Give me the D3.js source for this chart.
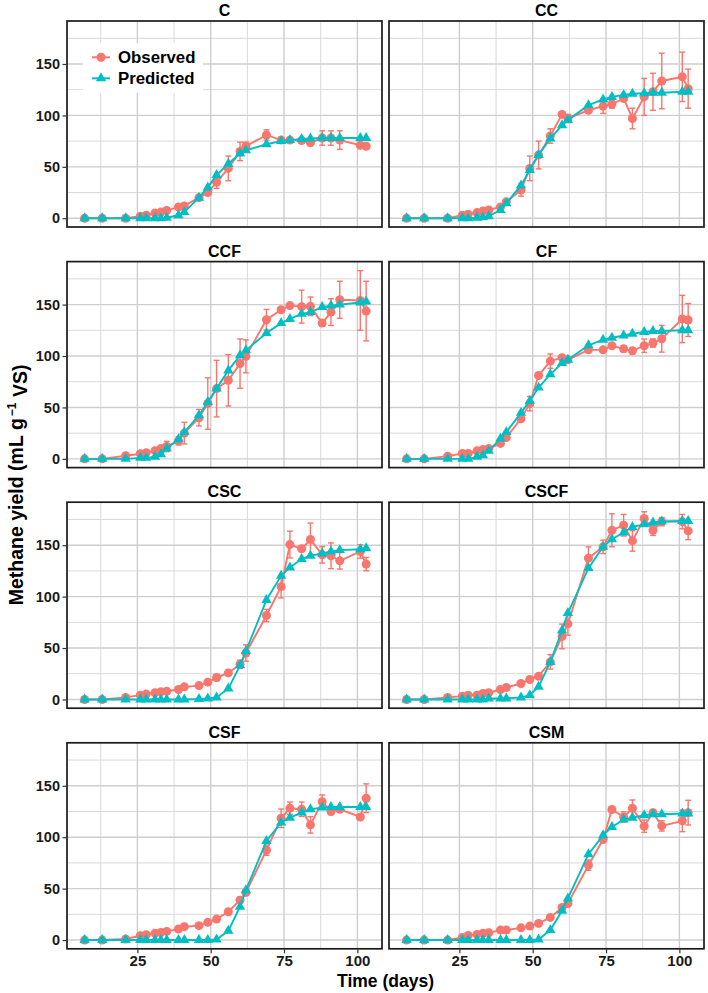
<!DOCTYPE html>
<html>
<head>
<meta charset="utf-8">
<script src="https://cdnjs.cloudflare.com/ajax/libs/d3/7.8.5/d3.min.js"></script>
<style>
  body { margin: 0; background: #fff; }
  svg { display: block; font-family: "Liberation Sans", Arial, sans-serif; }
</style>
</head>
<body>
<div id="graf"></div>
<script>
// Dias de muestreo (comunes a todos los tratamientos)
const dias = [7, 13, 21, 26, 28, 31, 33, 35, 39, 41, 46, 49, 52, 56, 60, 62, 69, 74, 77, 81, 84, 88, 91, 94, 101, 103]

const tratamientos = ['C', 'CC', 'CCF', 'CF', 'CSC', 'CSCF', 'CSF', 'CSM']

// Observado, error y predicho por tratamiento (mL g-1 VS)
const obs_C   = [0, 0, 0, 2, 3, 5, 6, 7.5, 11, 12, 20, 25, 35, 48.5, 65, 70, 81, 76, 76, 75.5, 73.5, 78, 78, 76, 71, 70]
const err_C   = [0, 0, 0, 1, 1, 1, 1, 1, 1, 1.5, 2, 2, 6, 12, 9, 4, 5, 2, 2, 2, 3, 7, 7, 9, 2, 2]
const pred_C  = [0, 0, 0, 0, 0, 0, 0, 0.5, 3, 6, 20, 30, 42, 53, 63, 66, 72, 75, 76, 77, 77.5, 78, 78, 78, 78, 78]

const obs_CC  = [0, 0, 0, 3, 4, 5.5, 7, 8, 11, 16, 27.5, 48.5, 61.5, 80, 101, 97, 105, 109, 111, 116.5, 97, 118, 123, 133.5, 137.5, 126]
const err_CC  = [0, 0, 0, 1, 1, 1, 1, 1, 1.5, 2, 6, 12, 13.5, 7, 2, 4, 2, 7, 4, 3, 10, 18, 18, 27, 24, 19]
const pred_CC = [0, 0, 0, 0, 0, 0.5, 1, 2, 8, 14.5, 32, 47, 61.5, 77.5, 90.5, 95.5, 110, 115.5, 118, 120, 121, 121.5, 122, 122, 123, 123]

const obs_CCF  = [0, 0, 3, 5, 6, 8, 10, 12, 17.5, 25, 40, 53.8, 68.3, 76.4, 92.6, 99.7, 135.3, 145, 149, 148, 148.3, 132, 142.7, 154.7, 154, 143.7]
const err_CCF  = [0, 0, 1, 1, 1, 2, 2, 5, 4, 10.5, 8, 25, 27.5, 25, 24, 16, 10, 2, 2, 16, 9, 2, 13, 18, 29, 29]
const pred_CCF = [0, 0, 0, 1, 1, 2, 4.5, 10, 19, 26, 42.4, 55.3, 68.3, 86, 100.7, 105.5, 122.3, 132, 136, 141, 142.7, 147.6, 149, 150, 152, 153]

const obs_CF  = [0, 0, 2.6, 5.2, 5.2, 7.8, 9, 10, 15, 20.7, 39, 53.7, 81, 95, 98.4, 96.4, 106, 106, 110, 107, 105, 110, 112.6, 116.8, 136, 135]
const err_CF  = [0, 0, 1, 1, 1, 1, 1, 1, 1, 1.5, 2, 7, 2, 7, 2, 2, 2, 2, 2, 3, 3, 6.5, 4, 13, 23, 16]
const pred_CF = [0, 0, 0, 0, 0, 2, 3.5, 7.8, 19.7, 26, 44.7, 56.3, 69.3, 82.2, 93.2, 96.4, 110.4, 115.9, 117.8, 120, 121.7, 123.3, 124.3, 124.3, 125, 125]

const obs_CSC  = [0, 0, 2, 4.2, 5.2, 6.5, 7.4, 8, 9.7, 12.3, 13.5, 16.8, 21.3, 25.8, 34.2, 45.2, 81.6, 109.7, 150.6, 146.5, 155.5, 140.6, 139.7, 134.8, 143.9, 131.6]
const err_CSC  = [0, 0, 1, 1, 1, 1, 1, 1, 1, 1, 1.5, 1.5, 3, 2, 4, 8, 6, 11, 13, 2, 16, 8, 12.5, 8, 6.5, 6.5]
const pred_CSC = [0, 0, 0, 0, 0, 0, 0, 0, 0, 0, 0.5, 1, 2, 10.6, 33.2, 47, 96.8, 120.3, 128.4, 136.5, 139.7, 142, 143.9, 145.2, 146, 147]

const obs_CSCF  = [0, 0, 2, 3.2, 4.2, 4.2, 5.8, 6.5, 9.7, 11.6, 15.5, 19.4, 22.6, 36.5, 61.3, 73.5, 137.4, 148.4, 164.5, 169.4, 154.2, 176, 164.5, 172.9, 172.9, 163.9]
const err_CSCF  = [0, 0, 1, 1, 1, 1, 1, 1, 1, 1, 1, 1.5, 2, 7, 12, 11, 11, 6.5, 16, 10.5, 10, 6.5, 5, 4, 7, 8.5]
const pred_CSCF = [0, 0, 0, 0, 0, 0, 0, 1, 1, 1, 2, 4.2, 12.3, 36.5, 67, 84, 127.7, 148.4, 155.8, 162.3, 167.7, 170.3, 172, 173, 173.5, 173.5]

const obs_CSF  = [0, 0, 1, 4.2, 5.2, 6.5, 7.4, 8.4, 10.7, 13, 14, 17.2, 20.4, 27.5, 38.8, 46.3, 87.4, 118.4, 128.2, 127.2, 112, 134.6, 125, 127.2, 119.7, 137.9]
const err_CSF  = [0, 0, 0.5, 1, 1, 1, 1, 1, 1, 1, 1, 1, 1.5, 2, 3, 2, 5, 9, 6, 7, 8, 6.5, 3, 2, 2, 14]
const pred_CSF = [0, 0, 0, 0, 0, 0, 0, 0, 0, 0, 0, 0, 0.5, 9, 32.4, 48.5, 96.4, 114.2, 119, 124, 127.2, 128.8, 129.4, 129.4, 129.4, 129.4]

const obs_CSM  = [0, 0, 0, 2.6, 4.5, 5.5, 6.5, 7.1, 9.7, 9.7, 11.9, 13.6, 16.2, 22, 31.7, 35.6, 72.8, 97.7, 126.9, 119.7, 128.2, 110.7, 123.9, 111, 115.9, 123.9]
const err_CSM  = [0, 0, 0, 1, 1, 1, 1, 1, 1, 1, 1, 1, 1.5, 1.5, 2, 2, 5, 2, 2, 5, 8, 6, 3, 5, 10.5, 12]
const pred_CSM = [0, 0, 0, 0, 0, 0, 0, 0, 0, 0, 0, 0, 0.5, 9.7, 28.5, 40.5, 83.5, 101.9, 110, 117.2, 119, 121.4, 122.3, 122.3, 123, 123]

// Marcas de los ejes
const ticksX = [25, 50, 75, 100]
const ticksY = [0, 50, 100, 150]

// Tabla de paneles construida a partir de los arreglos
const series = {
  C: [obs_C, err_C, pred_C], CC: [obs_CC, err_CC, pred_CC],
  CCF: [obs_CCF, err_CCF, pred_CCF], CF: [obs_CF, err_CF, pred_CF],
  CSC: [obs_CSC, err_CSC, pred_CSC], CSCF: [obs_CSCF, err_CSCF, pred_CSCF],
  CSF: [obs_CSF, err_CSF, pred_CSF], CSM: [obs_CSM, err_CSM, pred_CSM]
}
const paneles = tratamientos.map((t, i) => ({
  nombre: t,
  col: i % 2,
  fila: Math.floor(i / 2),
  obs: dias.map((d, j) => ({ dia: d, v: series[t][0][j], e: series[t][1][j] })),
  pred: dias.map((d, j) => ({ dia: d, v: series[t][2][j] }))
}))

const colObs = '#F8766D'
const colPred = '#00BFC4'

// Dimensiones
const ancho_total = 708, alto_total = 993
const margen = { izquierdo: 67, superior: 21 }
const anchoPanel = 315, altoPanel = 206
const pasoX = 322, pasoY = 240.6

const svg = d3.select('#graf').append('svg')
  .attr('width', ancho_total)
  .attr('height', alto_total)

const x = d3.scaleLinear().domain([1, 108.4]).range([0, anchoPanel])
const y = d3.scaleLinear().domain([-8.5, 191.8]).range([altoPanel, 0])

// lineas secundarias en medio de las principales
const medios = t => {
  const paso = t[1] - t[0]
  return [t[0] - paso / 2].concat(t.map(v => v + paso / 2))
}
const menoresX = medios(ticksX).filter(v => v > x.domain()[0] && v < x.domain()[1])
const menoresY = medios(ticksY).filter(v => v > y.domain()[0] && v < y.domain()[1])

const linea = d3.line().x(d => x(d.dia)).y(d => y(d.v))
const triangulo = d3.symbol().type(d3.symbolTriangle).size(46)

paneles.forEach(p => {
  const g = svg.append('g')
    .attr('transform', `translate(${margen.izquierdo + p.col * pasoX}, ${margen.superior + p.fila * pasoY})`)

  g.append('rect')
    .attr('width', anchoPanel).attr('height', altoPanel)
    .attr('fill', '#fff')

  // Rejilla
  g.selectAll('line.menorx').data(menoresX).enter().append('line')
    .attr('x1', d => x(d)).attr('x2', d => x(d))
    .attr('y1', 0).attr('y2', altoPanel)
    .attr('stroke', '#d9d9d9').attr('stroke-width', 1)
  g.selectAll('line.menory').data(menoresY).enter().append('line')
    .attr('y1', d => y(d)).attr('y2', d => y(d))
    .attr('x1', 0).attr('x2', anchoPanel)
    .attr('stroke', '#d9d9d9').attr('stroke-width', 1)
  g.selectAll('line.mayorx').data(ticksX).enter().append('line')
    .attr('x1', d => x(d)).attr('x2', d => x(d))
    .attr('y1', 0).attr('y2', altoPanel)
    .attr('stroke', '#cecece').attr('stroke-width', 1.4)
  g.selectAll('line.mayory').data(ticksY).enter().append('line')
    .attr('y1', d => y(d)).attr('y2', d => y(d))
    .attr('x1', 0).attr('x2', anchoPanel)
    .attr('stroke', '#cecece').attr('stroke-width', 1.4)

  // Leyenda en el primer panel
  if (p.nombre === 'C') {
    const ley = g.append('g').attr('transform', 'translate(16, 22)')
    ley.append('rect').attr('width', 120).attr('height', 50).attr('fill', '#fff')
    const items = [{ t: 'Observed', c: colObs }, { t: 'Predicted', c: colPred }]
    items.forEach((it, i) => {
      const fy = 14.3 + i * 21
      ley.append('line').attr('x1', 9).attr('x2', 27).attr('y1', fy).attr('y2', fy)
        .attr('stroke', it.c).attr('stroke-width', 2)
      if (i === 0) {
        ley.append('circle').attr('cx', 18).attr('cy', fy).attr('r', 4.5).attr('fill', it.c)
      } else {
        ley.append('path').attr('d', triangulo()).attr('transform', `translate(18, ${fy})`).attr('fill', it.c)
      }
      ley.append('text').attr('x', 35).attr('y', fy + 6)
        .style('font-size', '16.8px').style('font-weight', 'bold').style('fill', '#000')
        .text(it.t)
    })
  }

  // Barras de error
  const conErr = p.obs.filter(d => d.e > 0)
  g.selectAll('line.err').data(conErr).enter().append('line')
    .attr('x1', d => x(d.dia)).attr('x2', d => x(d.dia))
    .attr('y1', d => y(d.v - d.e)).attr('y2', d => y(d.v + d.e))
    .attr('stroke', colObs).attr('stroke-width', 1.4)
  ;['sup', 'inf'].forEach(k => {
    g.selectAll('line.cap' + k).data(conErr).enter().append('line')
      .attr('x1', d => x(d.dia - 1)).attr('x2', d => x(d.dia + 1))
      .attr('y1', d => y(k === 'sup' ? d.v + d.e : d.v - d.e))
      .attr('y2', d => y(k === 'sup' ? d.v + d.e : d.v - d.e))
      .attr('stroke', colObs).attr('stroke-width', 1.4)
  })

  // Observado
  g.append('path').datum(p.obs).attr('d', linea)
    .attr('fill', 'none').attr('stroke', colObs).attr('stroke-width', 1.9)
  g.selectAll('circle.obs').data(p.obs).enter().append('circle')
    .attr('cx', d => x(d.dia)).attr('cy', d => y(d.v)).attr('r', 4.5)
    .attr('fill', colObs)

  // Predicho
  g.append('path').datum(p.pred).attr('d', linea)
    .attr('fill', 'none').attr('stroke', colPred).attr('stroke-width', 1.9)
  g.selectAll('path.pred').data(p.pred).enter().append('path')
    .attr('class', 'pred')
    .attr('d', triangulo())
    .attr('transform', d => `translate(${x(d.dia)}, ${y(d.v)})`)
    .attr('fill', colPred)

  // Borde
  g.append('rect')
    .attr('width', anchoPanel).attr('height', altoPanel)
    .attr('fill', 'none').attr('stroke', '#1a1a1a').attr('stroke-width', 1.7)

  // Titulo del panel
  g.append('text')
    .attr('x', anchoPanel / 2).attr('y', -5)
    .attr('text-anchor', 'middle')
    .style('font-size', '16px').style('font-weight', 'bold').style('fill', '#000')
    .text(p.nombre)

  // Ejes
  if (p.col === 0) {
    const ejeY = g.append('g').call(d3.axisLeft(y).tickValues(ticksY).tickSize(4.5).tickPadding(2.5))
    ejeY.select('.domain').remove()
    ejeY.selectAll('line').attr('stroke', '#333').attr('stroke-width', 1.2)
    ejeY.selectAll('text').style('font-size', '14.5px').style('font-weight', 'bold')
      .style('font-family', '"Liberation Sans", Arial, sans-serif').attr('fill', '#1a1a1a')
  }
  if (p.fila === 3) {
    const ejeX = g.append('g').attr('transform', `translate(0, ${altoPanel})`)
      .call(d3.axisBottom(x).tickValues(ticksX).tickSize(4.5).tickPadding(2))
    ejeX.select('.domain').remove()
    ejeX.selectAll('line').attr('stroke', '#333').attr('stroke-width', 1.2)
    ejeX.selectAll('text').style('font-size', '15px').style('font-weight', 'bold')
      .style('font-family', '"Liberation Sans", Arial, sans-serif').attr('fill', '#1a1a1a')
  }
})

// Titulos de los ejes
const centroX = margen.izquierdo + (pasoX + anchoPanel) / 2
svg.append('text')
  .attr('x', centroX).attr('y', 987)
  .attr('text-anchor', 'middle')
  .style('font-size', '17.5px').style('font-weight', 'bold')
  .text('Time (days)')

const centroY = margen.superior + (3 * pasoY + altoPanel) / 2
const tituloY = svg.append('text')
  .attr('transform', `translate(23, ${centroY}) rotate(-90)`)
  .attr('text-anchor', 'middle')
  .style('font-size', '19.5px').style('font-weight', 'bold')
tituloY.append('tspan').text('Methane yield (mL g')
tituloY.append('tspan').attr('dy', '-0.55em').attr('dx', '2').style('font-size', '12px').text('\u22121')
tituloY.append('tspan').attr('dy', '0.55em').text(' VS)')
</script>
</body>
</html>
